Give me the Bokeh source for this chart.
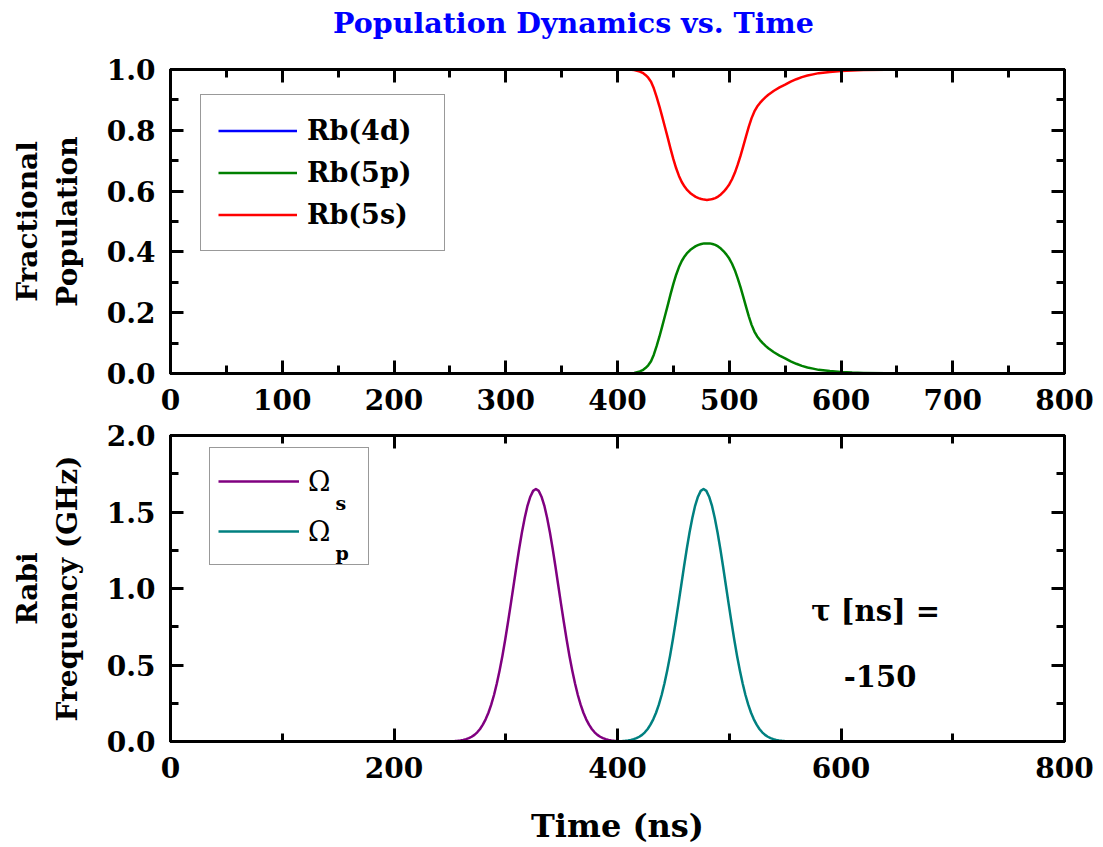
from bokeh.plotting import figure
from bokeh.models import (Range1d, LinearAxis, SingleIntervalTicker, PrintfTickFormatter,
                          Legend, LegendItem, Label)
from bokeh.layouts import column
from bokeh.embed import file_html
from bokeh.resources import INLINE

FONT = "DejaVu Serif"

# ---------------- data: population dynamics (top panel) ----------------
t_pop = [410, 415, 420, 422.5, 425, 427.5, 430, 432.5, 435, 437.5, 440, 442.5, 445, 447.5,
         450, 452.5, 455, 457.5, 460, 462.5, 465, 467.5, 470, 472.5, 475, 477.5, 480,
         482.5, 485, 487.5, 490, 492.5, 495, 497.5, 500, 502.5, 505, 507.5, 510, 512.5,
         515, 517.5, 520, 522.5, 525, 527.5, 530, 532.5, 535, 540, 545, 550, 555, 560,
         565, 570, 575, 580, 590, 600, 610, 620, 640, 665]
pop_5s = [1.000, 0.998, 0.993, 0.989, 0.982, 0.973, 0.960, 0.938, 0.910, 0.879, 0.845,
          0.810, 0.775, 0.739, 0.705, 0.675, 0.650, 0.630, 0.615, 0.603, 0.594, 0.587,
          0.581, 0.577, 0.574, 0.572, 0.571, 0.572, 0.574, 0.577, 0.582, 0.589, 0.598,
          0.609, 0.622, 0.639, 0.660, 0.686, 0.715, 0.747, 0.780, 0.812, 0.840, 0.862,
          0.878, 0.890, 0.900, 0.909, 0.917, 0.930, 0.941, 0.950, 0.960, 0.968, 0.975,
          0.980, 0.984, 0.988, 0.992, 0.995, 0.997, 0.998, 0.999, 1.000]
pop_5p = [0.000, 0.002, 0.007, 0.011, 0.018, 0.027, 0.040, 0.062, 0.090, 0.121, 0.155,
          0.190, 0.225, 0.261, 0.295, 0.325, 0.350, 0.370, 0.385, 0.397, 0.406, 0.413,
          0.419, 0.423, 0.426, 0.428, 0.428, 0.428, 0.426, 0.423, 0.418, 0.411, 0.402,
          0.391, 0.378, 0.361, 0.340, 0.314, 0.285, 0.253, 0.220, 0.188, 0.160, 0.138,
          0.122, 0.110, 0.100, 0.091, 0.083, 0.070, 0.059, 0.050, 0.040, 0.032, 0.025,
          0.020, 0.016, 0.012, 0.008, 0.005, 0.003, 0.002, 0.001, 0.000]
t_4d = [0, 800]
pop_4d = [0.0, 0.0]
pop_labels = ["Rb(4d)", "Rb(5p)", "Rb(5s)"]

# ---------------- data: Rabi frequencies (bottom panel) ----------------
t_s = [249.5, 252, 254.5, 257, 259.5, 262, 264.5, 267, 269.5, 272, 274.5, 277, 279.5, 282,
       284.5, 287, 289.5, 292, 294.5, 297, 299.5, 302, 304.5, 307, 309.5, 312, 314.5, 317,
       319.5, 322, 324.5, 327, 329.5, 332, 334.5, 337, 339.5, 342, 344.5, 347, 349.5, 352,
       354.5, 357, 359.5, 362, 364.5, 367, 369.5, 372, 374.5, 377, 379.5, 382, 384.5, 387,
       389.5, 392, 394.5, 397, 399.5, 402, 404.5]
omega_s = [0.0012, 0.0019, 0.0030, 0.0046, 0.0069, 0.0103, 0.0151, 0.0218, 0.031, 0.0435,
           0.060, 0.082, 0.110, 0.145, 0.188, 0.241, 0.304, 0.379, 0.464, 0.559, 0.665,
           0.779, 0.898, 1.020, 1.142, 1.260, 1.368, 1.463, 1.542, 1.600, 1.638, 1.650,
           1.638, 1.600, 1.542, 1.463, 1.368, 1.260, 1.142, 1.020, 0.898, 0.779, 0.665,
           0.559, 0.464, 0.379, 0.304, 0.241, 0.188, 0.145, 0.110, 0.082, 0.060, 0.0435,
           0.031, 0.0218, 0.0151, 0.0103, 0.0069, 0.0046, 0.0030, 0.0019, 0.0012]
t_p = [399.5, 402, 404.5, 407, 409.5, 412, 414.5, 417, 419.5, 422, 424.5, 427, 429.5, 432,
       434.5, 437, 439.5, 442, 444.5, 447, 449.5, 452, 454.5, 457, 459.5, 462, 464.5, 467,
       469.5, 472, 474.5, 477, 479.5, 482, 484.5, 487, 489.5, 492, 494.5, 497, 499.5, 502,
       504.5, 507, 509.5, 512, 514.5, 517, 519.5, 522, 524.5, 527, 529.5, 532, 534.5, 537,
       539.5, 542, 544.5, 547, 549.5, 552, 554.5]
omega_p = [0.0012, 0.0019, 0.0030, 0.0046, 0.0069, 0.0103, 0.0151, 0.0218, 0.031, 0.0435,
           0.060, 0.082, 0.110, 0.145, 0.188, 0.241, 0.304, 0.379, 0.464, 0.559, 0.665,
           0.779, 0.898, 1.020, 1.142, 1.260, 1.368, 1.463, 1.542, 1.600, 1.638, 1.650,
           1.638, 1.600, 1.542, 1.463, 1.368, 1.260, 1.142, 1.020, 0.898, 0.779, 0.665,
           0.559, 0.464, 0.379, 0.304, 0.241, 0.188, 0.145, 0.110, 0.082, 0.060, 0.0435,
           0.031, 0.0218, 0.0151, 0.0103, 0.0069, 0.0046, 0.0030, 0.0019, 0.0012]
tau_ns = -150
title_text = "Population Dynamics vs. Time"


def style_axis(ax, show_labels=True):
    ax.axis_line_width = 3
    ax.axis_line_color = "black"
    ax.major_tick_in = 13
    ax.major_tick_out = 0
    ax.minor_tick_in = 8
    ax.minor_tick_out = 0
    ax.major_tick_line_width = 3
    ax.minor_tick_line_width = 3
    ax.major_tick_line_color = "black"
    ax.minor_tick_line_color = "black"
    ax.major_label_text_font = FONT
    ax.major_label_text_font_style = "bold"
    ax.major_label_text_color = "black"
    ax.axis_label_text_font = FONT
    ax.axis_label_text_font_style = "bold"
    ax.axis_label_text_font_size = "28px"
    ax.axis_label_text_color = "black"
    if show_labels:
        ax.major_label_text_font_size = "28px"
        ax.major_label_standoff = 15
    else:
        ax.major_label_text_font_size = "0px"
        ax.major_label_standoff = 0
        ax.major_label_text_alpha = 0


def make_fig(height, yrange, xint, yint, top, bottom):
    p = figure(width=1103, height=height, x_range=Range1d(0, 800), y_range=Range1d(*yrange),
               output_backend="svg", toolbar_location=None, title=None,
               min_border_left=170, min_border_right=39, min_border_top=top,
               min_border_bottom=bottom)
    p.xgrid.visible = False
    p.ygrid.visible = False
    p.outline_line_color = "black"
    p.outline_line_width = 3
    p.background_fill_color = "white"
    p.border_fill_color = "white"
    xb = p.below[0]
    yl = p.left[0]
    xb.ticker = SingleIntervalTicker(interval=xint, num_minor_ticks=2)
    yl.ticker = SingleIntervalTicker(interval=yint, num_minor_ticks=2)
    yl.formatter = PrintfTickFormatter(format="%.1f")
    style_axis(xb)
    style_axis(yl)
    top_ax = LinearAxis(ticker=SingleIntervalTicker(interval=xint, num_minor_ticks=2))
    right_ax = LinearAxis(ticker=SingleIntervalTicker(interval=yint, num_minor_ticks=2))
    style_axis(top_ax, False)
    style_axis(right_ax, False)
    p.add_layout(top_ax, "above")
    p.add_layout(right_ax, "right")
    return p, xb, yl


# ---------------- title strip (its frame is aligned with the panels below) ----------------
p0 = figure(width=1103, height=40, x_range=Range1d(0, 800), y_range=Range1d(0, 40),
            output_backend="svg", toolbar_location=None, title=None,
            x_axis_location=None, y_axis_location=None, min_border=0)
p0.xgrid.visible = False
p0.ygrid.visible = False
p0.outline_line_color = None
p0.add_layout(Label(x=360.6, y=18, text=title_text, text_font=FONT, text_font_style="bold",
                    text_font_size="28.5px", text_color="#0000FF", text_align="center",
                    text_baseline="middle"))

# ---------------- top panel ----------------
p1, x1, y1 = make_fig(377, (0, 1), 100, 0.2, 29, 44)
y1.axis_label = "Fractional\nPopulation"
y1.axis_label_standoff = 20

r4d = p1.line(t_4d, pop_4d, line_color="#0000FF", line_width=2.5)
r5p = p1.line(t_pop, pop_5p, line_color="#008000", line_width=2.5, line_join="round")
r5s = p1.line(t_pop, pop_5s, line_color="#FF0000", line_width=2.5, line_join="round")

leg1 = Legend(items=[LegendItem(label=pop_labels[0], renderers=[r4d]),
                     LegendItem(label=pop_labels[1], renderers=[r5p]),
                     LegendItem(label=pop_labels[2], renderers=[r5s])],
              location=(30, 122))
leg1.label_text_font = FONT
leg1.label_text_font_style = "bold"
leg1.label_text_font_size = "27px"
leg1.label_text_color = "black"
leg1.padding = 17
leg1.spacing = 5
leg1.margin = 0
leg1.label_height = 37
leg1.glyph_height = 37
leg1.glyph_width = 79
leg1.label_standoff = 10
leg1.label_width = 120
leg1.border_line_color = "#333333"
leg1.border_line_width = 1.5
leg1.background_fill_alpha = 1
p1.add_layout(leg1)

# ---------------- bottom panel ----------------
p2, x2, y2 = make_fig(430, (0, 2), 200, 0.5, 18, 106)
y2.axis_label = "Rabi\nFrequency (GHz)"
y2.axis_label_standoff = 20
x2.axis_label = "Time (ns)"
x2.axis_label_text_font_size = "32px"
x2.axis_label_standoff = 26

rs = p2.line(t_s, omega_s, line_color="#800080", line_width=2.5, line_join="round")
rp = p2.line(t_p, omega_p, line_color="#008080", line_width=2.5, line_join="round")

leg2 = Legend(items=[LegendItem(label="Ω", renderers=[rs]),
                     LegendItem(label="Ω", renderers=[rp])],
              location=(39, 176))
leg2.label_text_font = FONT
leg2.label_text_font_style = "normal"
leg2.label_text_font_size = "27px"
leg2.label_text_color = "black"
leg2.padding = 8
leg2.spacing = 0
leg2.margin = 0
leg2.label_height = 50
leg2.glyph_height = 50
leg2.glyph_width = 81
leg2.label_standoff = 9
leg2.label_width = 52
leg2.border_line_color = "#333333"
leg2.border_line_width = 1.5
leg2.background_fill_alpha = 0
p2.add_layout(leg2)

for sub, yv in (("s", 1.562), ("p", 1.235)):
    p2.add_layout(Label(x=147.7, y=yv, text=sub, text_font=FONT, text_font_style="bold",
                        text_font_size="19px", text_align="left", text_baseline="middle",
                        text_color="black"))

p2.add_layout(Label(x=631, y=0.856, text="τ [ns] =", text_font=FONT, text_font_style="bold",
                    text_font_size="29px", text_align="center", text_baseline="middle",
                    text_color="black"))
p2.add_layout(Label(x=635, y=0.431, text=str(tau_ns), text_font=FONT, text_font_style="bold",
                    text_font_size="29px", text_align="center", text_baseline="middle",
                    text_color="black"))

layout = column(p0, p1, p2, spacing=0)
open("out.html", "w").write(file_html(layout, INLINE, title_text))
